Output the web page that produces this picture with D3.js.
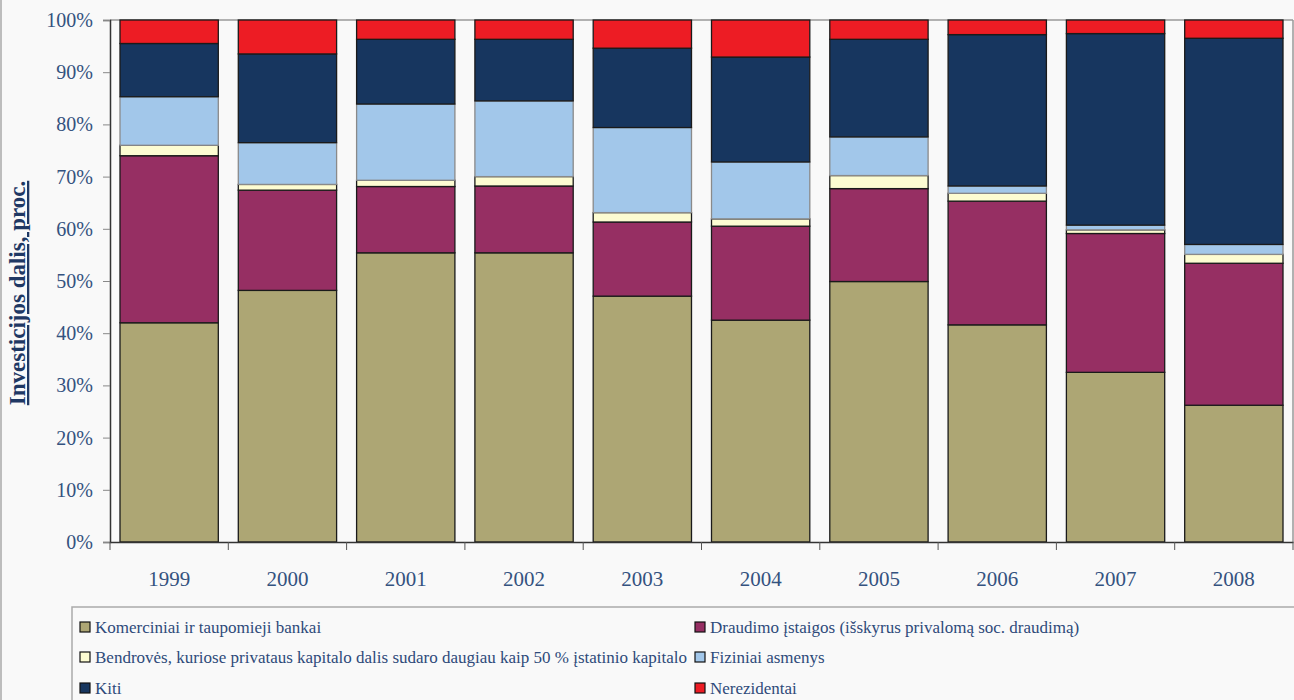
<!DOCTYPE html>
<html><head><meta charset="utf-8">
<script src="https://cdn.jsdelivr.net/npm/d3@7"></script>
<style>
html,body{margin:0;padding:0;background:#f9f9f9;}
svg{display:block;}
</style></head>
<body>
<script>
const years = ["1999","2000","2001","2002","2003","2004","2005","2006","2007","2008"];
const seriesNames = [
  "Komerciniai ir taupomieji bankai",
  "Draudimo įstaigos (išskyrus privalomą soc. draudimą)",
  "Bendrovės, kuriose privataus kapitalo dalis sudaro daugiau kaip 50 % įstatinio kapitalo",
  "Fiziniai asmenys",
  "Kiti",
  "Nerezidentai"
];
const bankai       = [42.0, 48.2, 55.4, 55.4, 47.1, 42.5, 49.9, 41.6, 32.5, 26.2];
const draudimo     = [32.0, 19.2, 12.7, 12.8, 14.2, 18.0, 17.8, 23.7, 26.6, 27.2];
const bendroves    = [ 2.0,  1.1,  1.2,  1.8,  1.8,  1.4,  2.5,  1.5,  0.7,  1.7];
const fiziniai     = [ 9.3,  8.0, 14.6, 14.5, 16.3, 10.9,  7.4,  1.4,  0.9,  1.9];
const kiti         = [10.2, 17.0, 12.4, 11.8, 15.2, 20.1, 18.7, 29.0, 36.7, 39.5];
const nerezidentai = [ 4.5,  6.5,  3.7,  3.7,  5.4,  7.1,  3.7,  2.8,  2.6,  3.5];
const yTicks = [0,10,20,30,40,50,60,70,80,90,100];
const yTitle = "Investicijos dalis, proc.";

(function(){
const colors = ["#ada674","#962f63","#fdfcd2","#a2c7ea","#17365f","#ed1c24"];
const strokes = ["#1a1a1a","#1a1a1a","#1a1a1a","#8a8a8a","#1a1a1a","#1a1a1a"];
const allSeries = [bankai, draudimo, bendroves, fiziniai, kiti, nerezidentai];

const W = 1294, H = 700;
const svg = d3.select("body").append("svg").attr("width", W).attr("height", H);
svg.append("rect").attr("width", W).attr("height", H).attr("fill", "#f9f9f9");
svg.append("line").attr("x1",1).attr("x2",1).attr("y1",0).attr("y2",H).attr("stroke","#bdbdbd").attr("stroke-width",2);

const pL = 110, pR = 1293, pT = 20, pB = 542;
const x = d3.scaleBand().domain(years).range([pL, pR]).paddingInner(0.169).paddingOuter(0.0845);
const xb = d3.scaleBand().domain(years).range([pL, pR]);
const y = d3.scaleLinear().domain([0,100]).range([pB, pT]);

svg.append("line").attr("x1",pL).attr("x2",pR).attr("y1",pT).attr("y2",pT).attr("stroke","#999").attr("stroke-width",1.5);
svg.append("line").attr("x1",pR).attr("x2",pR).attr("y1",pT).attr("y2",pB).attr("stroke","#999").attr("stroke-width",1.5);

const table = years.map((yr,i) => { const o = {year: yr}; seriesNames.forEach((s,k)=> o[s] = allSeries[k][i]); return o; });
const stack = d3.stack().keys(seriesNames)(table);

stack.forEach((layer, k) => {
  svg.append("g").selectAll("rect").data(layer).join("rect")
    .attr("x", d => x(d.data.year))
    .attr("width", x.bandwidth())
    .attr("y", d => y(d[1]))
    .attr("height", d => y(d[0]) - y(d[1]))
    .attr("fill", colors[k])
    .attr("stroke", strokes[k])
    .attr("stroke-width", 1.3);
});

const yAxis = svg.append("g").attr("transform", `translate(${pL},0)`)
  .call(d3.axisLeft(y).tickValues(yTicks).tickFormat(d => d + "%").tickSize(7).tickPadding(10));
yAxis.select(".domain").attr("stroke", "#333").attr("stroke-width", 1.5);
yAxis.selectAll(".tick line").attr("stroke", "#888");
yAxis.selectAll("text").attr("font-family", "'Liberation Serif', 'DejaVu Serif', serif").attr("font-size", 20).attr("fill", "#34527f");

const xAxis = svg.append("g").attr("transform", `translate(0,${pB})`)
  .call(d3.axisBottom(xb).tickSize(0).tickPadding(29));
xAxis.select(".domain").attr("stroke", "#333").attr("stroke-width", 1.5);
xAxis.selectAll("text").attr("font-family", "'Liberation Serif', 'DejaVu Serif', serif").attr("font-size", 21).attr("fill", "#34527f");
const bounds = years.map(yr => xb(yr)).concat([pR]);
svg.append("g").selectAll("line").data(bounds).join("line")
  .attr("x1", d => d).attr("x2", d => d).attr("y1", pB).attr("y2", pB + 8)
  .attr("stroke", "#555").attr("stroke-width", 1);

svg.append("text")
  .attr("transform", `translate(25,293) rotate(-90)`)
  .attr("text-anchor", "middle")
  .attr("font-family", "'Liberation Serif', 'DejaVu Serif', serif")
  .attr("font-size", 23).attr("font-weight", "bold")
  .attr("text-decoration", "underline")
  .attr("fill", "#1f3864")
  .text(yTitle);

svg.append("rect").attr("x", 72).attr("y", 607).attr("width", W).attr("height", 200)
  .attr("fill", "#f9f9f9").attr("stroke", "#aaa").attr("stroke-width", 1.5);
const legendPos = [[80,627],[695,627],[80,657],[695,657],[80,688],[695,688]];
const lg = svg.append("g").selectAll("g").data(seriesNames).join("g")
  .attr("transform", (d,i) => `translate(${legendPos[i][0]},${legendPos[i][1]})`);
lg.append("rect").attr("x", 0).attr("y", -5).attr("width", 10).attr("height", 10)
  .attr("fill", (d,i) => colors[i]).attr("stroke", "#111").attr("stroke-width", 1.2);
lg.append("text").attr("x", 15).attr("y", 0).attr("dy", "0.35em")
  .attr("font-family", "'Liberation Serif', 'DejaVu Serif', serif")
  .attr("font-size", 17).attr("fill", "#2e4a7a")
  .text(d => d);
})();
</script>
</body></html>
